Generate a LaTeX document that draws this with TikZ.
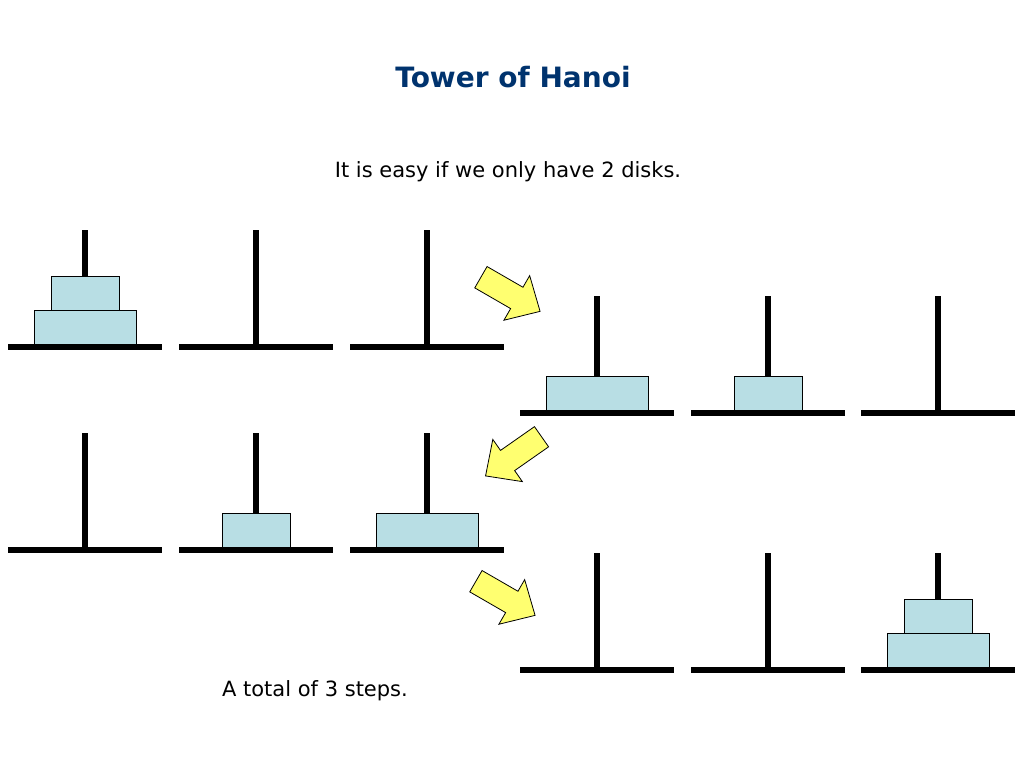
\documentclass[tikz,border=0pt]{standalone}
\usepackage{fontspec}
\setmainfont{DejaVu Sans}
\definecolor{diskblue}{RGB}{184,222,228}
\definecolor{titleblue}{RGB}{0,51,110}
\definecolor{arrowyellow}{RGB}{255,255,112}
\tikzset{
  peg/.style={line width=6pt},
  disk/.style={draw,fill=diskblue,line width=0.8pt},
  bigarrow/.style={draw,fill=arrowyellow,line width=0.8pt,line join=miter}
}
\newcommand{\tower}[3]{% x, base y, name
  \draw[peg] (#1-77,#2) -- (#1+77,#2);
  \draw[peg] (#1,#2) -- (#1,#2-117);
  \coordinate (#3) at (#1,#2);}
\newcommand{\bigdisk}[2]{\draw[disk] (#1-51,#2-3) rectangle (#1+51,#2-37);}
\newcommand{\smalldisk}[2]{\draw[disk] (#1-34,#2-3) rectangle (#1+34,#2-37);}
\newcommand{\movearrow}[3]{% x, y, angle
  \draw[bigarrow,shift={(#1,#2)},rotate=#3,scale=1.12]
    (-30,-11) -- (7,-11) -- (7,-23) -- (31,0) -- (7,23) -- (7,11) -- (-30,11) -- cycle;}
\begin{document}
\begin{tikzpicture}[x=1pt,y=-1pt]
  \useasboundingbox (0,0) rectangle (1024,768);
  \node[text=titleblue,font=\bfseries\fontsize{28}{32}\selectfont] (title) at (513,77) {Tower of Hanoi};
  \node[font=\fontsize{21}{24}\selectfont] (intro) at (508,172) {It is easy if we only have 2 disks.};
  \node[font=\fontsize{21}{24}\selectfont] (total) at (315,691) {A total of 3 steps.};
  % start
  \tower{85}{347}{a1} \tower{256}{347}{b1} \tower{427}{347}{c1}
  \bigdisk{85}{347} \smalldisk{85}{313}
  % step 1
  \tower{597}{413}{a2} \tower{768}{413}{b2} \tower{938}{413}{c2}
  \bigdisk{597}{413} \smalldisk{768}{413}
  % step 2
  \tower{85}{550}{a3} \tower{256}{550}{b3} \tower{427}{550}{c3}
  \smalldisk{256}{550} \bigdisk{427}{550}
  % step 3
  \tower{597}{670}{a4} \tower{768}{670}{b4} \tower{938}{670}{c4}
  \bigdisk{938}{670} \smalldisk{938}{636}
  % moves
  \movearrow{510}{294}{-30}
  \movearrow{514}{456}{-145}
  \movearrow{505}{598}{-30}
\end{tikzpicture}
\end{document}
